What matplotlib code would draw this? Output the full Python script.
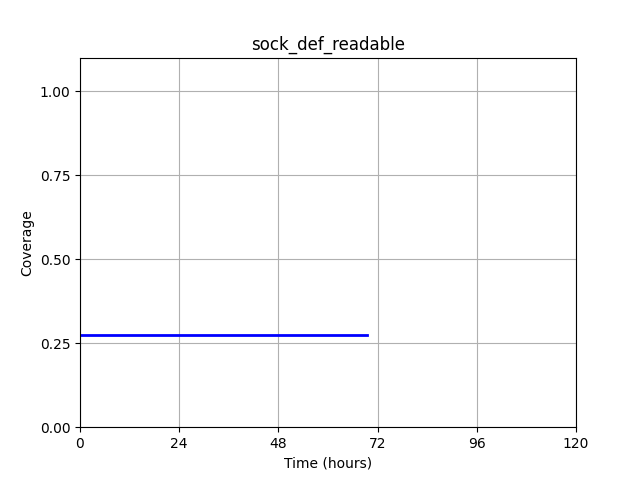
import matplotlib
matplotlib.use('Agg')
import matplotlib.pyplot as plt

# Coverage over time
hours = [0, 69.5]
coverage = [0.274, 0.274]

plt.figure(figsize=(6.4, 4.8), dpi=100)
plt.plot(hours, coverage, color='blue', linewidth=2)
plt.xlim(0, 120)
plt.ylim(0, 1.1)
plt.xticks([0, 24, 48, 72, 96, 120])
plt.yticks([0.0, 0.25, 0.5, 0.75, 1.0])
plt.xlabel('Time (hours)')
plt.ylabel('Coverage')
plt.title('sock_def_readable')
plt.grid(True)
plt.savefig('out.png')
